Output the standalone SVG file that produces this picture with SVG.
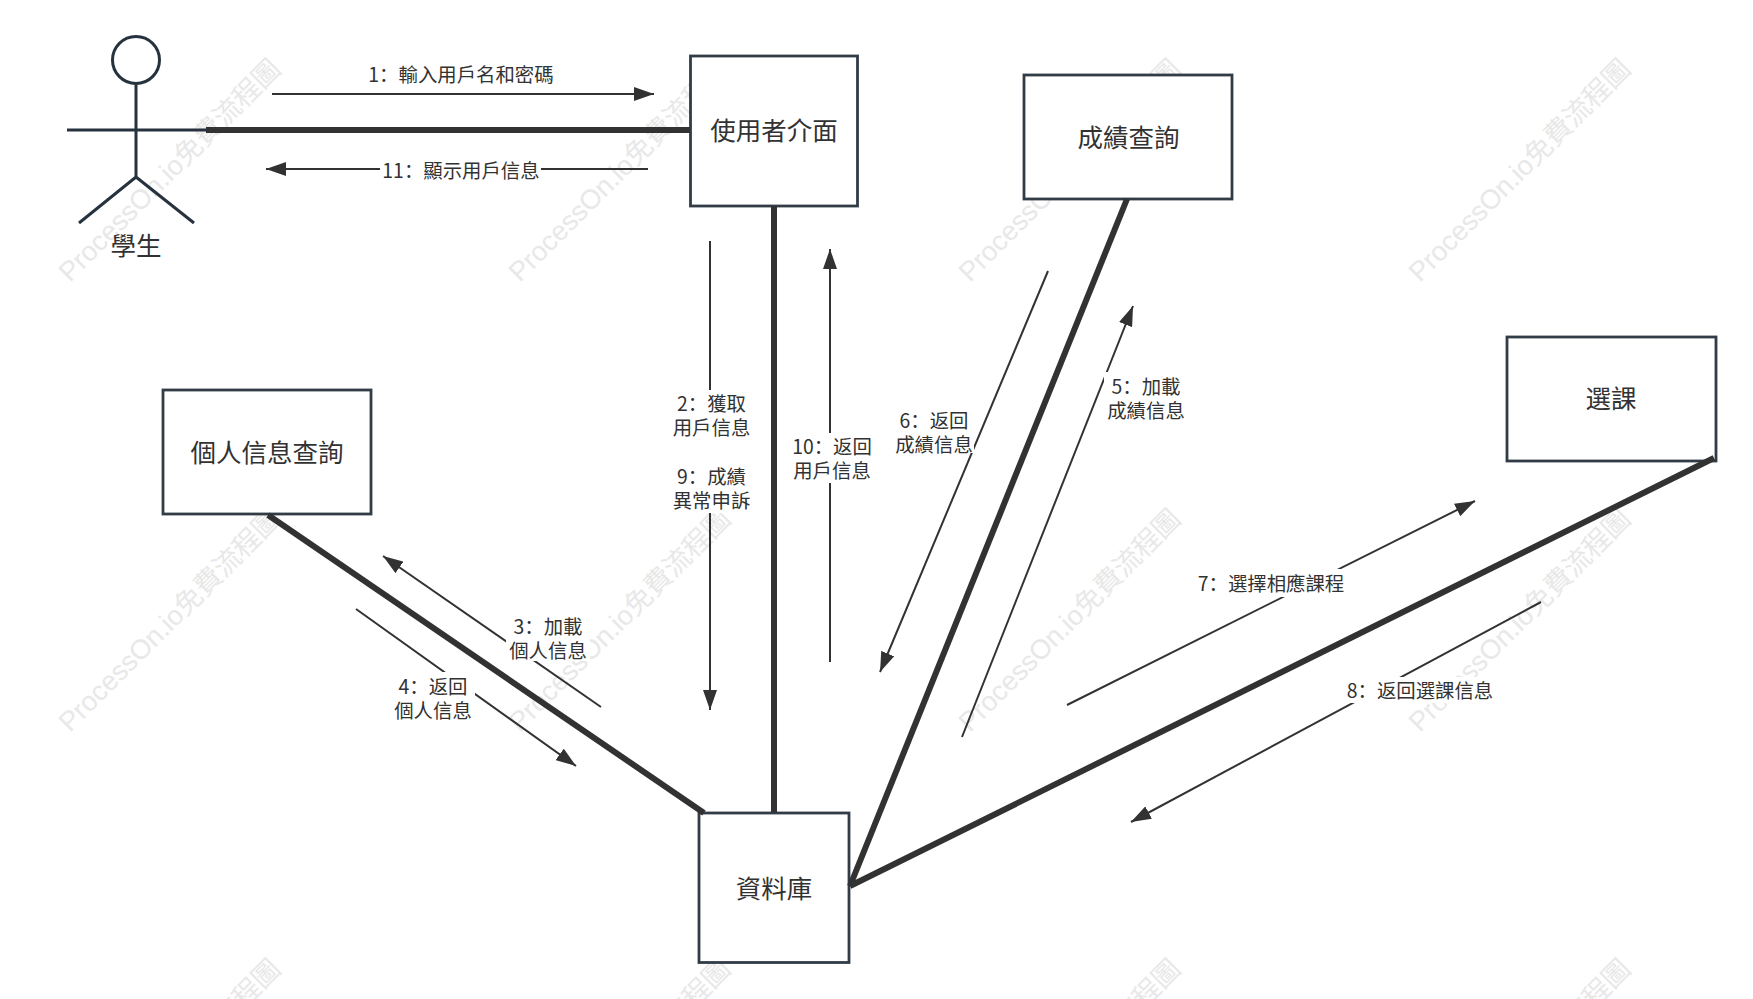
<svg xmlns="http://www.w3.org/2000/svg" width="1753" height="999" viewBox="0 0 1753 999">
<style>
text{font-family:"Noto Sans CJK SC","Noto Sans CJK TC","Liberation Sans",sans-serif;fill:#323232;text-anchor:middle}
.wm{font-family:"Liberation Sans","Noto Sans CJK SC",sans-serif;font-size:27.3px;fill:#e8e8e8;text-anchor:start}
.nt{font-size:25.5px}
.lb{font-size:19.4px}
.box{fill:#fff;stroke:#323c47;stroke-width:2.8}
.st{fill:none;stroke:#26333f;stroke-width:3}
.thick{fill:none;stroke:#323232;stroke-width:6}
.msg{fill:none;stroke:#323232;stroke-width:2;marker-end:url(#ah)}
.bg{fill:#fff}
</style>
<defs>
<marker id="ah" viewBox="0 0 20 14" markerWidth="20" markerHeight="14" refX="20" refY="7" orient="auto" markerUnits="userSpaceOnUse"><path d="M0 0L20 7L0 14Z" fill="#323232"/></marker>
</defs>
<rect width="1753" height="999" fill="#fff"/>
<g id="watermarks">
<text class="wm" transform="translate(70 283) rotate(-45)">ProcessOn.io免費流程圖</text>
<text class="wm" transform="translate(520 283) rotate(-45)">ProcessOn.io免費流程圖</text>
<text class="wm" transform="translate(970 283) rotate(-45)">ProcessOn.io免費流程圖</text>
<text class="wm" transform="translate(1420 283) rotate(-45)">ProcessOn.io免費流程圖</text>
<text class="wm" transform="translate(70 733) rotate(-45)">ProcessOn.io免費流程圖</text>
<text class="wm" transform="translate(520 733) rotate(-45)">ProcessOn.io免費流程圖</text>
<text class="wm" transform="translate(970 733) rotate(-45)">ProcessOn.io免費流程圖</text>
<text class="wm" transform="translate(1420 733) rotate(-45)">ProcessOn.io免費流程圖</text>
<text class="wm" transform="translate(70 1183) rotate(-45)">ProcessOn.io免費流程圖</text>
<text class="wm" transform="translate(520 1183) rotate(-45)">ProcessOn.io免費流程圖</text>
<text class="wm" transform="translate(970 1183) rotate(-45)">ProcessOn.io免費流程圖</text>
<text class="wm" transform="translate(1420 1183) rotate(-45)">ProcessOn.io免費流程圖</text>
</g>
<g id="student">
<circle class="st" cx="136" cy="60" r="23.5"/>
<path class="st" d="M136 84V177M67 130H206M79 223L136 177L194 223"/>
<text class="nt" x="136" y="255">學生</text>
</g>
<g id="ui"><rect class="box" x="690.5" y="56" width="167" height="150"/><text class="nt" x="774" y="140">使用者介面</text></g>
<g id="grades"><rect class="box" x="1024" y="75" width="208" height="124"/><text class="nt" x="1128.5" y="147">成績查詢</text></g>
<g id="personal"><rect class="box" x="163" y="390" width="208" height="124"/><text class="nt" x="267" y="462">個人信息查詢</text></g>
<g id="course"><rect class="box" x="1507" y="337" width="209" height="124"/><text class="nt" x="1611" y="408">選課</text></g>
<g id="database"><rect class="box" x="699" y="813" width="150" height="149.5"/><text class="nt" x="774" y="898">資料庫</text></g>
<g id="connectors">
<path class="thick" d="M206 130H690"/>
<path class="thick" d="M774 206V812"/>
<path class="thick" d="M268 515L704 813"/>
<path class="thick" d="M1127 199L850 886"/>
<path class="thick" d="M1714 458L850 886"/>
<path class="msg" d="M272 94H654"/>
<path class="msg" d="M648 169H266"/>
<path class="msg" d="M710 241V710"/>
<path class="msg" d="M830 662V249"/>
<path class="msg" d="M601 707L383 556"/>
<path class="msg" d="M356 609L576 766"/>
<path class="msg" d="M1048 271L880 672"/>
<path class="msg" d="M962 737L1133 306"/>
<path class="msg" d="M1067 705L1475 501"/>
<path class="msg" d="M1541 602L1131 822"/>
<rect class="bg" x="380" y="158" width="161" height="26"/>
<rect class="bg" x="669" y="390" width="84" height="123"/>
<rect class="bg" x="790" y="433" width="84" height="50"/>
<rect class="bg" x="506" y="612" width="84" height="49"/>
<rect class="bg" x="391" y="672" width="84" height="48"/>
<rect class="bg" x="894" y="405" width="80" height="48"/>
<rect class="bg" x="1104" y="372" width="84" height="48"/>
<rect class="bg" x="1195" y="569" width="152" height="28"/>
<rect class="bg" x="1345" y="677" width="152" height="26"/>
<text class="lb" x="461" y="82">1：輸入用戶名和密碼</text>
<text class="lb" x="461" y="178">11：顯示用戶信息</text>
<text class="lb" x="711.5" y="411">2：獲取</text>
<text class="lb" x="711.5" y="435">用戶信息</text>
<text class="lb" x="711.5" y="484">9：成績</text>
<text class="lb" x="711.5" y="508">異常申訴</text>
<text class="lb" x="832" y="454">10：返回</text>
<text class="lb" x="832" y="478">用戶信息</text>
<text class="lb" x="548" y="634">3：加載</text>
<text class="lb" x="548" y="658">個人信息</text>
<text class="lb" x="433" y="694">4：返回</text>
<text class="lb" x="433" y="718">個人信息</text>
<text class="lb" x="934" y="428">6：返回</text>
<text class="lb" x="934" y="452">成績信息</text>
<text class="lb" x="1146" y="394">5：加載</text>
<text class="lb" x="1146" y="418">成績信息</text>
<text class="lb" x="1271" y="591">7：選擇相應課程</text>
<text class="lb" x="1420" y="698">8：返回選課信息</text>
</g>
</svg>
